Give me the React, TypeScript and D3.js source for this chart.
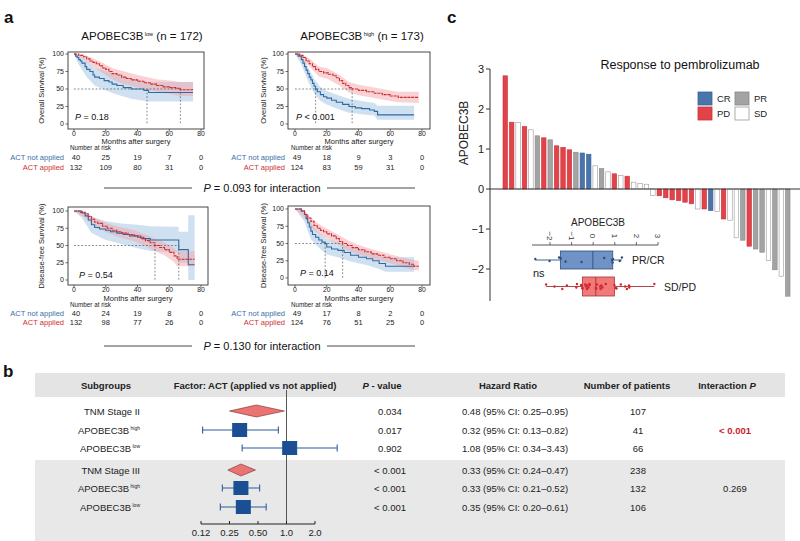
import React, { useEffect } from 'react';
import * as d3 from 'd3';

type Pt = number[];

// ---------------- Panel a : Kaplan-Meier data ----------------
const kmTimeTicks = [0, 20, 40, 60, 80];
const kmSurvTicks = [0, 25, 50, 75, 100];

// OS, APOBEC3B low  [months, survival %]
const osLowNot: Pt[] = [[0,100],[1,97],[2,95],[3,92],[4,90],[5,87],[7,82],[8,78],[10,75],[12,70],[13,67],[16,65],[19,62],[22,60],[24,57],[27,55],[31,52],[36,50],[44,48],[47,45],[75,45]];
const osLowNotCI: Pt[] = [[0,100,100],[3,85,99],[8,67,90],[13,55,80],[20,48,76],[27,42,70],[36,36,65],[47,32,60],[75,32,60]];
const osLowApp: Pt[] = [[0,100],[3,98],[6,96],[8,93],[10,90],[12,88],[14,86],[16,83],[18,80],[20,78],[22,75],[24,72],[27,70],[30,67],[33,65],[36,63],[40,61],[44,59],[48,57],[52,55],[56,53],[60,52],[64,51],[67,49],[75,49]];
const osLowAppCI: Pt[] = [[0,100,100],[6,92,99],[12,82,94],[18,73,87],[24,64,80],[30,58,76],[40,52,70],[52,46,64],[60,43,62],[67,40,60],[75,40,60]];
const osLowMedians = [46, 67];

// OS, APOBEC3B high
const osHighNot: Pt[] = [[0,100],[2,97],[4,92],[5,87],[6,82],[7,77],[8,72],[9,67],[10,63],[11,58],[12,54],[13,50],[14,46],[16,42],[18,39],[20,37],[23,34],[26,31],[30,28],[34,25],[38,23],[42,22],[47,20],[50,18],[52,13],[75,13]];
const osHighNotCI: Pt[] = [[0,100,100],[4,85,99],[8,62,82],[12,44,65],[16,33,53],[20,28,47],[26,22,42],[34,16,36],[42,14,33],[50,12,30],[52,6,26],[75,6,26]];
const osHighApp: Pt[] = [[0,100],[3,98],[5,95],[7,90],[9,86],[11,82],[13,78],[15,75],[18,73],[21,71],[24,69],[26,66],[28,62],[30,58],[32,55],[34,52],[36,50],[40,48],[45,46],[50,44],[55,42],[60,40],[65,38],[78,38]];
const osHighAppCI: Pt[] = [[0,100,100],[5,91,99],[10,80,92],[15,68,82],[21,64,79],[28,55,70],[34,45,60],[40,41,56],[50,37,52],[60,33,48],[65,31,46],[78,30,46]];
const osHighMedians = [13, 36];

// DFS, APOBEC3B low
const dfsLowNot: Pt[] = [[0,100],[5,97],[7,93],[9,87],[11,80],[13,76],[16,74],[20,72],[23,70],[27,68],[31,66],[35,64],[40,62],[44,60],[48,58],[66,44],[72,22],[76,22]];
const dfsLowNotCI: Pt[] = [[0,100,100],[5,90,100],[11,68,92],[20,58,85],[30,52,82],[40,46,80],[48,42,78],[65.9,40,77],[66,25,70],[71.9,25,70],[72,0,94],[76,0,94]];
const dfsLowApp: Pt[] = [[0,100],[4,98],[7,96],[9,92],[11,88],[13,84],[15,82],[18,78],[21,75],[24,72],[27,70],[30,68],[34,66],[38,64],[42,60],[45,57],[48,54],[51,50],[54,47],[57,44],[60,40],[63,35],[65,30],[76,30]];
const dfsLowAppCI: Pt[] = [[0,100,100],[7,90,99],[13,78,90],[21,68,82],[30,61,76],[38,56,72],[45,49,66],[51,42,60],[57,36,54],[63,26,46],[65,20,42],[76,20,42]];
const dfsLowMedians = [51, 66];

// DFS, APOBEC3B high
const dfsHighNot: Pt[] = [[0,100],[4,97],[6,92],[7,86],[8,80],[9,74],[10,68],[11,63],[13,59],[15,55],[17,52],[19,50],[20,45],[23,42],[27,40],[31,37],[35,33],[40,30],[45,28],[49,25],[53,21],[57,17],[75,17]];
const dfsHighNotCI: Pt[] = [[0,100,100],[6,82,99],[10,56,80],[15,44,66],[20,34,57],[27,30,52],[35,24,45],[45,19,40],[53,13,34],[57,9,30],[75,9,30]];
const dfsHighApp: Pt[] = [[0,100],[4,97],[6,92],[8,87],[10,82],[12,76],[14,72],[16,69],[18,67],[20,64],[23,61],[26,57],[28,53],[30,50],[33,47],[36,44],[40,41],[44,38],[48,35],[52,33],[56,30],[60,28],[64,25],[68,22],[72,20],[75,17],[78,17]];
const dfsHighAppCI: Pt[] = [[0,100,100],[6,87,97],[12,69,83],[18,60,74],[26,50,64],[33,40,55],[40,34,48],[48,29,42],[56,24,37],[64,19,32],[72,13,27],[78,11,25]];
const dfsHighMedians = [19, 30];

// Number at risk
const riskOSLowNot = [40, 25, 19, 7, 0];
const riskOSLowApp = [132, 109, 80, 31, 0];
const riskOSHighNot = [49, 18, 9, 3, 0];
const riskOSHighApp = [124, 83, 59, 31, 0];
const riskDFSLowNot = [40, 24, 19, 8, 0];
const riskDFSLowApp = [132, 98, 77, 26, 0];
const riskDFSHighNot = [49, 17, 8, 2, 0];
const riskDFSHighApp = [124, 76, 51, 25, 0];

const interactionLabels = ['= 0.093 for interaction', '= 0.130 for interaction'];

// ---------------- Panel b : forest plot ----------------
const subgroupLabels = ['TNM Stage II', 'APOBEC3B', 'APOBEC3B', 'TNM Stage III', 'APOBEC3B', 'APOBEC3B'];
const subgroupSup = ['', 'high', 'low', '', 'high', 'low'];
const rowKind = ['diamond', 'square', 'square', 'diamond', 'square', 'square'];
const hrValues = [0.48, 0.32, 1.08, 0.33, 0.33, 0.35];
const hrLower = [0.25, 0.13, 0.34, 0.24, 0.21, 0.20];
const hrUpper = [0.95, 0.82, 3.43, 0.47, 0.52, 0.61];
const pValues = ['0.034', '0.017', '0.902', '< 0.001', '< 0.001', '< 0.001'];
const nPatients = [107, 41, 66, 238, 132, 106];
const interactionP = ['< 0.001', '0.269'];
const forestTicks = [0.125, 0.25, 0.5, 1, 2];
const forestTickLabels = ['0.12', '0.25', '0.50', '1.0', '2.0'];

// ---------------- Panel c : waterfall ----------------
const waterfallValues = [2.83,1.67,1.66,1.56,1.48,1.33,1.28,1.23,1.08,1.04,0.98,0.92,0.9,0.87,0.58,0.51,0.43,0.38,0.34,0.32,0.17,0.14,0.12,-0.16,-0.17,-0.22,-0.27,-0.29,-0.33,-0.37,-0.5,-0.5,-0.54,-0.56,-0.75,-0.78,-1.22,-1.28,-1.43,-1.5,-1.58,-1.79,-2.02,-2.18,-2.68];
const waterfallResponse = ['PD','PD','SD','PD','SD','PR','PD','PR','PD','PD','PD','PR','CR','CR','SD','PR','SD','PD','SD','PD','SD','SD','SD','SD','PD','PD','PD','PD','PD','PD','SD','PD','CR','SD','PD','SD','SD','PR','PD','PR','PR','SD','PR','SD','PR'];
const waterfallTicks = [3, 2, 1, 0, -1, -2];
const insetTicks = [-2, -1, 0, 1, 2, 3];

// ---------------- styles ----------------
const FONT = "'Liberation Sans', Arial, Helvetica, sans-serif";
const BLUE = '#2f6aa3';
const RED = '#cf2a2e';
const respFill: Record<string, string> = { CR: '#4a74aa', PR: '#a3a3a3', PD: '#e2434a', SD: '#ffffff' };
const respStroke: Record<string, string> = { CR: '#3b629a', PR: '#888888', PD: '#c93238', SD: '#9a9a9a' };

interface KMCfg {
  level: string; n: number; ylabel: string;
  box: number[]; x0: number; x80: number; y0: number; y100: number;
  titleX: number; titleY: number; ylabelX: number;
  not: Pt[]; notCI: Pt[]; app: Pt[]; appCI: Pt[]; medians: number[];
  pText: string; pX: number; pY: number;
  riskNot: number[]; riskApp: number[];
  tickY: number; monthsY: number; nrY: number; r1Y: number; r2Y: number;
}

const kmPanels: KMCfg[] = [
  { level: 'low', n: 172, ylabel: 'Overall Survival (%)', box: [68, 52, 204, 129], x0: 74, x80: 201, y0: 124, y100: 54,
    titleX: 142, titleY: 40, ylabelX: 44, not: osLowNot, notCI: osLowNotCI, app: osLowApp, appCI: osLowAppCI, medians: osLowMedians,
    pText: '= 0.18', pX: 75, pY: 120, riskNot: riskOSLowNot, riskApp: riskOSLowApp, tickY: 136, monthsY: 144, nrY: 150, r1Y: 160, r2Y: 170 },
  { level: 'high', n: 173, ylabel: 'Overall Survival (%)', box: [288, 52, 430, 129], x0: 295, x80: 422, y0: 124, y100: 54,
    titleX: 362, titleY: 40, ylabelX: 266, not: osHighNot, notCI: osHighNotCI, app: osHighApp, appCI: osHighAppCI, medians: osHighMedians,
    pText: '< 0.001', pX: 296, pY: 120, riskNot: riskOSHighNot, riskApp: riskOSHighApp, tickY: 136, monthsY: 144, nrY: 150, r1Y: 160, r2Y: 170 },
  { level: '', n: 0, ylabel: 'Disease-free Survival (%)', box: [68, 207, 208, 285], x0: 74, x80: 201, y0: 280, y100: 211,
    titleX: 0, titleY: 0, ylabelX: 44, not: dfsLowNot, notCI: dfsLowNotCI, app: dfsLowApp, appCI: dfsLowAppCI, medians: dfsLowMedians,
    pText: '= 0.54', pX: 79, pY: 278, riskNot: riskDFSLowNot, riskApp: riskDFSLowApp, tickY: 292, monthsY: 300.5, nrY: 307, r1Y: 316, r2Y: 325 },
  { level: '', n: 0, ylabel: 'Disease-free Survival (%)', box: [288, 206, 430, 285], x0: 295, x80: 422, y0: 278, y100: 209,
    titleX: 0, titleY: 0, ylabelX: 266, not: dfsHighNot, notCI: dfsHighNotCI, app: dfsHighApp, appCI: dfsHighAppCI, medians: dfsHighMedians,
    pText: '= 0.14', pX: 300, pY: 276, riskNot: riskDFSHighNot, riskApp: riskDFSHighApp, tickY: 292, monthsY: 300.5, nrY: 307, r1Y: 316, r2Y: 325 },
];

function KM({ c }: { c: KMCfg }) {
  const x = d3.scaleLinear().domain([0, 80]).range([c.x0, c.x80]);
  const y = d3.scaleLinear().domain([0, 100]).range([c.y0, c.y100]);
  const line = d3.line<Pt>().x(d => x(d[0])).y(d => y(d[1])).curve(d3.curveStepAfter);
  const band = d3.area<Pt>().x(d => x(d[0])).y0(d => y(d[1])).y1(d => y(d[2])).curve(d3.curveLinear);
  const [bx0, by0, bx1, by1] = c.box;
  const hMax = d3.max(c.medians) as number;
  const midY = (by0 + by1) / 2;
  return (
    <g>
      {c.n > 0 && (
        <text x={c.titleX} y={c.titleY} textAnchor="middle" fontSize={11.5} fill="#111">
          APOBEC3B<tspan fontSize={5.5} dy={-4.5}> {c.level}</tspan><tspan dy={4.5}> (n = {c.n})</tspan>
        </text>
      )}
      <path d={band(c.notCI) || ''} fill="#a8c9e6" fillOpacity={0.55} />
      <path d={band(c.appCI) || ''} fill="#f2a6a9" fillOpacity={0.5} />
      <line x1={x(0)} x2={x(hMax)} y1={y(50)} y2={y(50)} stroke="#555" strokeWidth={0.7} strokeDasharray="1.8,1.8" />
      {c.medians.map((m, i) => (
        <line key={i} x1={x(m)} x2={x(m)} y1={y(50)} y2={y(0)} stroke="#555" strokeWidth={0.7} strokeDasharray="1.8,1.8" />
      ))}
      <path d={line(c.not) || ''} fill="none" stroke={BLUE} strokeWidth={1.1} />
      <path d={line(c.app) || ''} fill="none" stroke={RED} strokeWidth={1.1} strokeDasharray="3,0.8" />
      <rect x={bx0} y={by0} width={bx1 - bx0} height={by1 - by0} fill="none" stroke="#333" strokeWidth={0.9} />
      {kmSurvTicks.map(t => (
        <g key={t}>
          <line x1={bx0 - 2.5} x2={bx0} y1={y(t)} y2={y(t)} stroke="#333" strokeWidth={0.7} />
          <text x={bx0 - 4} y={y(t) + 2.4} textAnchor="end" fontSize={7} fill="#222">{t}</text>
        </g>
      ))}
      {kmTimeTicks.map(t => (
        <g key={t}>
          <line x1={x(t)} x2={x(t)} y1={by1} y2={by1 + 2.5} stroke="#333" strokeWidth={0.7} />
          <text x={x(t)} y={c.tickY} textAnchor="middle" fontSize={6.8} fill="#222">{t}</text>
        </g>
      ))}
      <text x={(bx0 + bx1) / 2} y={c.monthsY} textAnchor="middle" fontSize={7.5} fill="#222">Months after surgery</text>
      <text transform={`translate(${c.ylabelX},${midY}) rotate(-90)`} textAnchor="middle" fontSize={7.5} fill="#222">{c.ylabel}</text>
      <text x={c.pX} y={c.pY} fontSize={9} fill="#111"><tspan fontStyle="italic">P</tspan> {c.pText}</text>
      <text x={c.x0 - 4} y={c.nrY} fontSize={6.3} fill="#222">Number at risk</text>
      <text x={c.x0 - 10} y={c.r1Y} textAnchor="end" fontSize={7.5} fill="#3a6fa8">ACT not applied</text>
      <text x={c.x0 - 10} y={c.r2Y} textAnchor="end" fontSize={7.5} fill="#d03033">ACT applied</text>
      {kmTimeTicks.map((t, i) => (
        <g key={t}>
          <text x={x(t) + (i === 0 ? 2 : 0)} y={c.r1Y} textAnchor="middle" fontSize={7.5} fill="#222">{c.riskNot[i]}</text>
          <text x={x(t) + (i === 0 ? 2 : 0)} y={c.r2Y} textAnchor="middle" fontSize={7.5} fill="#222">{c.riskApp[i]}</text>
        </g>
      ))}
    </g>
  );
}

function Interaction({ label, y }: { label: string; y: number }) {
  return (
    <g>
      <line x1={104} x2={192} y1={y - 3} y2={y - 3} stroke="#333" strokeWidth={0.9} />
      <line x1={327} x2={415} y1={y - 3} y2={y - 3} stroke="#333" strokeWidth={0.9} />
      <text x={262} y={y + 1} textAnchor="middle" fontSize={11} fill="#111"><tspan fontStyle="italic">P</tspan> {label}</text>
    </g>
  );
}

function Forest() {
  const x = d3.scaleLog().base(2).domain([0.125, 2]).range([201, 315]);
  const rowY = [411, 430, 448, 470, 488, 507];
  const axisY = 524;
  const headerY = 389;
  return (
    <g>
      <rect x={35} y={373} width={750} height={24} fill="#e4e4e4" />
      <rect x={35} y={460} width={750} height={81} fill="#e8e8e8" />
      <g fontSize={9.5} fontWeight="bold" fill="#222" textAnchor="middle">
        <text x={106} y={headerY}>Subgroups</text>
        <text x={255} y={headerY}>Factor: ACT (applied vs not applied)</text>
        <text x={382} y={headerY}><tspan fontStyle="italic">P</tspan> - value</text>
        <text x={508} y={headerY}>Hazard Ratio</text>
        <text x={627} y={headerY}>Number of patients</text>
        <text x={727} y={headerY}>Interaction  <tspan fontStyle="italic">P</tspan></text>
      </g>
      <line x1={x(1)} x2={x(1)} y1={390} y2={axisY} stroke="#555" strokeWidth={1} />
      {rowY.map((ry, i) => {
        const cx = x(hrValues[i]);
        return (
          <g key={i}>
            <text x={140} y={ry + 3.5} textAnchor="end" fontSize={9.5} fill="#222">
              {subgroupLabels[i]}
              {subgroupSup[i] && <tspan fontSize={5} dy={-4}> {subgroupSup[i]}</tspan>}
            </text>
            {rowKind[i] === 'diamond' ? (
              <path d={`M${x(hrLower[i])},${ry} L${cx},${ry - 6} L${x(hrUpper[i])},${ry} L${cx},${ry + 6} Z`} fill="#ea7472" stroke="#7a2a2a" strokeWidth={0.6} />
            ) : (
              <g>
                <line x1={x(hrLower[i])} x2={x(hrUpper[i])} y1={ry} y2={ry} stroke="#2d5c9c" strokeWidth={1.1} />
                <line x1={x(hrLower[i])} x2={x(hrLower[i])} y1={ry - 3.5} y2={ry + 3.5} stroke="#2d5c9c" strokeWidth={1.1} />
                <line x1={x(hrUpper[i])} x2={x(hrUpper[i])} y1={ry - 3.5} y2={ry + 3.5} stroke="#2d5c9c" strokeWidth={1.1} />
                <rect x={cx - 7.5} y={ry - 7} width={15} height={14} fill="#1b4f93" />
              </g>
            )}
            <text x={390} y={ry + 3.5} textAnchor="middle" fontSize={9.5} fill="#222">{pValues[i]}</text>
            <text x={515} y={ry + 3.5} textAnchor="middle" fontSize={9.5} fill="#222">
              {`${hrValues[i].toFixed(2)} (95% CI: ${hrLower[i].toFixed(2)}\u2013${hrUpper[i].toFixed(2)})`}
            </text>
            <text x={638} y={ry + 3.5} textAnchor="middle" fontSize={9.5} fill="#222">{nPatients[i]}</text>
          </g>
        );
      })}
      <text x={735} y={rowY[1] + 3.5} textAnchor="middle" fontSize={9.5} fontWeight="bold" fill="#d0202a">{interactionP[0]}</text>
      <text x={735} y={rowY[4] + 3.5} textAnchor="middle" fontSize={9.5} fill="#222">{interactionP[1]}</text>
      <line x1={x(0.125)} x2={x(2)} y1={axisY} y2={axisY} stroke="#222" strokeWidth={1} />
      {forestTicks.map((t, i) => (
        <g key={t}>
          <line x1={x(t)} x2={x(t)} y1={axisY - 3} y2={axisY} stroke="#222" strokeWidth={1} />
          <text x={x(t)} y={axisY + 12} textAnchor="middle" fontSize={9.5} fill="#222">{forestTickLabels[i]}</text>
        </g>
      ))}
    </g>
  );
}

function Waterfall() {
  const idx = waterfallValues.map((_, i) => i);
  const x = d3.scaleBand<number>().domain(idx).range([503, 790]).paddingInner(0.3);
  const y = d3.scaleLinear().domain([-2.8, 3]).range([301, 69]);
  const legend = [
    { k: 'CR', x: 698, y: 92 }, { k: 'PR', x: 735, y: 92 },
    { k: 'PD', x: 698, y: 107 }, { k: 'SD', x: 735, y: 107 },
  ];
  // inset boxplot
  const bx = d3.scaleLinear().domain([-2, 3]).range([550, 658]);
  const groups = [
    { label: 'PR/CR', vals: waterfallValues.filter((_, i) => waterfallResponse[i] === 'PR' || waterfallResponse[i] === 'CR'), cy: 260, h: 18, fill: '#6f93c6', stroke: '#2e4f7e', pt: '#2e4f7e', lx: 632 },
    { label: 'SD/PD', vals: waterfallValues.filter((_, i) => waterfallResponse[i] === 'SD' || waterfallResponse[i] === 'PD'), cy: 286.5, h: 19, fill: '#f07a7a', stroke: '#a83236', pt: '#d3262d', lx: 664 },
  ];
  const jit = [-2.5, 1, -1, 2.5, 0, -2, 2, 1.5, -1.5];
  return (
    <g>
      <text x={680} y={69} textAnchor="middle" fontSize={12.5} fill="#111">Response to pembrolizumab</text>
      {idx.map(i => {
        const v = waterfallValues[i];
        const r = waterfallResponse[i];
        return (
          <rect key={i} x={x(i)} width={x.bandwidth()} y={y(Math.max(0, v))} height={Math.abs(y(v) - y(0))}
            fill={respFill[r]} stroke={respStroke[r]} strokeWidth={0.6} />
        );
      })}
      <line x1={490} x2={800} y1={y(0)} y2={y(0)} stroke="#333" strokeWidth={1} />
      <line x1={490} x2={490} y1={y(3)} y2={y(-2.8)} stroke="#333" strokeWidth={1} />
      {waterfallTicks.map(t => (
        <g key={t}>
          <line x1={486} x2={490} y1={y(t)} y2={y(t)} stroke="#333" strokeWidth={1} />
          <text x={484} y={y(t) + 4} textAnchor="end" fontSize={11} fill="#222">{t < 0 ? `\u2212${-t}` : t}</text>
        </g>
      ))}
      <text transform={`translate(468,133) rotate(-90)`} textAnchor="middle" fontSize={12} fill="#222">APOBEC3B</text>
      {legend.map(l => (
        <g key={l.k}>
          <rect x={l.x} y={l.y} width={14} height={13} fill={respFill[l.k]} stroke={respStroke[l.k]} strokeWidth={0.8} />
          <text x={l.x + 19} y={l.y + 10} fontSize={9.5} fill="#222">{l.k}</text>
        </g>
      ))}
      {/* inset */}
      <text x={598} y={226} textAnchor="middle" fontSize={10} fill="#222">APOBEC3B</text>
      <line x1={532} x2={bx(3)} y1={245} y2={245} stroke="#444" strokeWidth={0.9} />
      {insetTicks.map(t => (
        <g key={t}>
          <line x1={bx(t)} x2={bx(t)} y1={242} y2={245} stroke="#444" strokeWidth={0.8} />
          <text transform={`translate(${bx(t)},236) rotate(90)`} textAnchor="middle" dy="0.35em" fontSize={8} fill="#333">{t < 0 ? `\u2212${-t}` : t}</text>
        </g>
      ))}
      {groups.map(g => {
        const s = g.vals.slice().sort(d3.ascending);
        const q1 = d3.quantile(s, 0.25) as number;
        const med = d3.quantile(s, 0.5) as number;
        const q3 = d3.quantile(s, 0.75) as number;
        const lo = d3.min(s) as number;
        const hi = d3.max(s) as number;
        return (
          <g key={g.label}>
            <line x1={bx(lo)} x2={bx(q1)} y1={g.cy} y2={g.cy} stroke={g.stroke} strokeWidth={0.9} />
            <line x1={bx(q3)} x2={bx(hi)} y1={g.cy} y2={g.cy} stroke={g.stroke} strokeWidth={0.9} />
            <rect x={bx(q1)} y={g.cy - g.h / 2} width={bx(q3) - bx(q1)} height={g.h} fill={g.fill} stroke={g.stroke} strokeWidth={0.8} />
            <line x1={bx(med)} x2={bx(med)} y1={g.cy - g.h / 2} y2={g.cy + g.h / 2} stroke={g.stroke} strokeWidth={0.9} />
            {g.vals.map((v, i) => (
              <circle key={i} cx={bx(v)} cy={g.cy + jit[i % jit.length]} r={1.2} fill={g.pt} />
            ))}
            <text x={g.lx} y={g.cy + 4} fontSize={10.5} fill="#222">{g.label}</text>
          </g>
        );
      })}
      <text x={533} y={277} fontSize={11} fill="#222">ns</text>
    </g>
  );
}

export default function App() {
  useEffect(() => {
    document.body.style.margin = '0';
  }, []);
  return (
    <svg width={800} height={541} viewBox="0 0 800 541" style={{ position: 'absolute', left: 0, top: 0, background: '#fff' }} fontFamily={FONT}>
      <rect x={0} y={0} width={800} height={541} fill="#fff" />
      <text x={4} y={23} fontSize={17} fontWeight="bold" fill="#111">a</text>
      <text x={3} y={377} fontSize={17} fontWeight="bold" fill="#111">b</text>
      <text x={447} y={23} fontSize={17} fontWeight="bold" fill="#111">c</text>
      {kmPanels.map((c, i) => <KM key={i} c={c} />)}
      <Interaction label={interactionLabels[0]} y={191} />
      <Interaction label={interactionLabels[1]} y={349} />
      <Forest />
      <Waterfall />
    </svg>
  );
}
